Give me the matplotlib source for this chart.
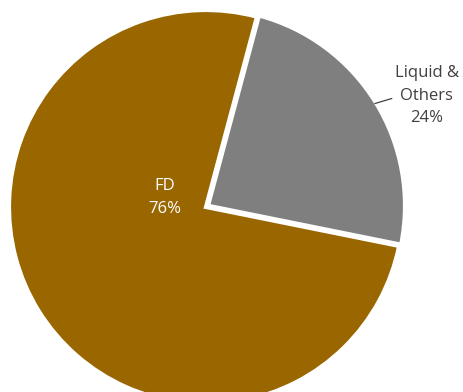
import matplotlib.pyplot as plt
import numpy as np

# share of each segment
labels = ["Liquid &\nOthers", "FD"]
values = [24, 76]
colors = ["#7f7f7f", "#996600"]

plt.rcParams['font.family'] = ['Open Sans', 'DejaVu Sans']

fig = plt.figure(figsize=(4.64, 3.92), dpi=100)
ax = fig.add_axes([0, 0, 1, 1])

wedges, _ = ax.pie(values, colors=colors, startangle=75, counterclock=False,
                   explode=[0.012, 0], radius=1.0,
                   wedgeprops=dict(edgecolor='white', linewidth=3))

# place the view so the pie sits high and left, clipped at the bottom
R = 197.0
cx, cy = 206.0, 207.0
ax.set_xlim(-cx / R, (464 - cx) / R)
ax.set_ylim(-(392 - cy) / R, cy / R)
ax.set_aspect('auto')
ax.axis('off')

# inside label for FD
ax.text(-0.21, 0.05, "%s\n%d%%" % (labels[1], values[1]), color='white',
        fontsize=12, ha='center', va='center', linespacing=1.6)

# outside label with leader line for the smaller slice
ang = np.deg2rad(31)
ax.annotate("%s\n%d%%" % (labels[0], values[0]),
            xy=(np.cos(ang), np.sin(ang) + 0.01),
            xytext=(1.12, 0.565), color='#404040', fontsize=12,
            ha='center', va='center', linespacing=1.55,
            arrowprops=dict(arrowstyle='-', color='#404040', lw=0.9,
                            shrinkA=0, shrinkB=0,
                            relpos=(0.1, 0.5)))

fig.savefig("out.png", dpi=100)
